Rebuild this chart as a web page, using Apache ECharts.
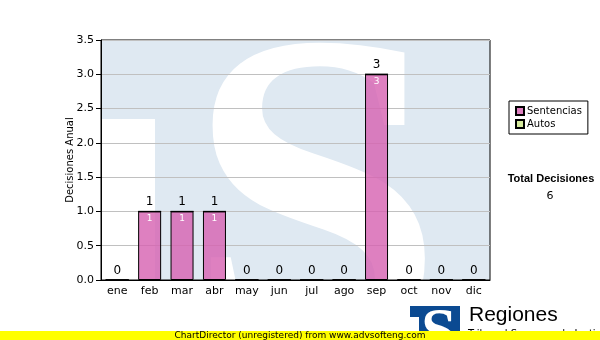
<!DOCTYPE html>
<html><head><meta charset="utf-8">
<script src="https://cdn.jsdelivr.net/npm/echarts@6/dist/echarts.min.js"></script>
<style>html,body{margin:0;padding:0;background:#fff}#c{width:600px;height:340px}</style>
</head><body><div id="c"></div>
<script>
const categories = ['ene','feb','mar','abr','may','jun','jul','ago','sep','oct','nov','dic'];
const sentencias = [0,1,1,1,0,0,0,0,3,0,0,0];
const autos = [0,0,0,0,0,0,0,0,0,0,0,0];
const yTicks = {min:0, max:3.5, interval:0.5};
const totalDecisiones = 6;
const totals = sentencias.map((v,i)=>v+autos[i]);

const chart = echarts.init(document.getElementById('c'), null, {renderer:'canvas'});
const F = 'DejaVu Sans';
chart.setOption({
  animation:false,
  backgroundColor:'#fff',
  textStyle:{fontFamily:F},
  grid:{left:101, right:110, top:40, bottom:60, show:true, borderColor:'#000', borderWidth:1, backgroundColor:'transparent'},
  legend:{
    left:509, top:101, orient:'vertical', padding:[5,6,5,6], itemGap:3,
    itemWidth:8, itemHeight:8, icon:'rect',
    borderColor:'#000', borderWidth:1,
    textStyle:{fontFamily:F, fontSize:10, color:'#000', padding:[0,0,0,-2]},
    data:['Sentencias','Autos']
  },
  xAxis:{
    type:'category', data:categories,
    axisLine:{lineStyle:{color:'#000', width:1}},
    axisTick:{alignWithLabel:true, length:5, lineStyle:{color:'#000'}},
    axisLabel:{color:'#000', fontSize:11, fontFamily:F, margin:6}
  },
  yAxis:{
    type:'value', min:yTicks.min, max:yTicks.max, interval:yTicks.interval,
    name:'Decisiones Anual', nameLocation:'middle', nameGap:26, nameMoveOverlap:false,
    nameTextStyle:{color:'#000', fontSize:10, fontFamily:F},
    axisLine:{show:true, lineStyle:{color:'#000', width:1}},
    axisTick:{show:true, length:5, lineStyle:{color:'#000'}},
    axisLabel:{color:'#000', fontSize:11, fontFamily:F, margin:7, formatter:v=>v.toFixed(1)},
    splitLine:{lineStyle:{color:'#c0c0c0', width:1}}
  },
  series:[
    {name:'Sentencias', type:'bar', stack:'t', data:sentencias, barWidth:23,
     itemStyle:{color:'rgba(214,96,176,0.8)', borderColor:'#000', borderWidth:1},
     label:{show:true, position:'insideTop', distance:3, color:'#fff', fontSize:9, fontFamily:F,
       formatter:p=>p.value?String(p.value):''}},
    {name:'Autos', type:'bar', stack:'t', data:autos, barWidth:23,
     itemStyle:{color:'#d6eb9e', borderColor:'#000', borderWidth:1},
     label:{show:true, position:'top', distance:3, color:'#000', fontSize:12, fontFamily:F,
       formatter:p=>String(totals[p.dataIndex])}}
  ],
  graphic:[
    {type:'rect', z:-20, silent:true, shape:{x:101,y:40,width:389,height:240}, style:{fill:'#dfe9f2'}},
    {type:'rect', z:-19, silent:true, shape:{x:101,y:119,width:54,height:161}, style:{fill:'#fff'}},
    {type:'text', z:-19, silent:true, x:186, y:-2, style:{text:'S', fill:'#fff', fontSize:465, fontWeight:'bold', fontFamily:'Liberation Serif', verticalAlign:'top', align:'left'}},
    {type:'text', x:551, y:179, style:{text:'Total Decisiones', fill:'#000', fontSize:11, fontWeight:'bold', fontFamily:'Liberation Sans', align:'center', verticalAlign:'middle'}},
    {type:'text', x:550, y:196, style:{text:String(totalDecisiones), fill:'#000', fontSize:11, fontFamily:F, align:'center', verticalAlign:'middle'}},
    {type:'rect', z:5, shape:{x:410,y:306,width:50,height:34}, style:{fill:'#0b4a92'}},
    {type:'rect', z:6, shape:{x:410,y:317,width:9,height:23}, style:{fill:'#fff'}},
    {type:'text', z:6, x:421, y:303, style:{text:'S', fill:'#fff', fontSize:64, fontWeight:'bold', fontFamily:'Liberation Serif', verticalAlign:'top'}},
    {type:'text', z:5, x:469, y:305, style:{text:'Regiones', fill:'#000', fontSize:21, fontFamily:'Liberation Sans', verticalAlign:'top'}},
    {type:'text', z:5, x:468, y:329, style:{text:'Tribunal Supremo de Justicia', fill:'#000', fontSize:10, fontFamily:F, verticalAlign:'top'}},
    {type:'rect', z:10, shape:{x:0,y:331,width:600,height:9}, style:{fill:'#ffff00'}},
    {type:'text', z:11, x:300, y:336, style:{text:'ChartDirector (unregistered) from www.advsofteng.com', fill:'#000', fontSize:9, fontFamily:F, align:'center', verticalAlign:'middle'}}
  ]
});
</script></body></html>
